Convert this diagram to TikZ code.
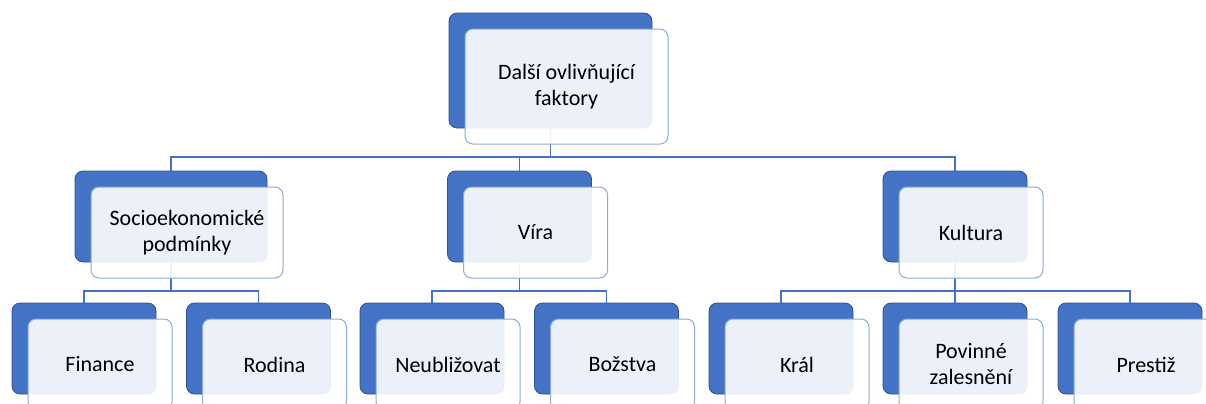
\documentclass[tikz,border=0pt]{standalone}
\usepackage{fontspec}
\setmainfont{Carlito}
\usepackage{tikz}
\usetikzlibrary{positioning}
\definecolor{accent}{HTML}{4472C4}
\definecolor{accentdark}{HTML}{2F528F}
\definecolor{accentlight}{HTML}{8EAADB}

\begin{document}
\begin{tikzpicture}[x=0.5pt,y=-0.5pt,
        back/.style={draw=accentdark, fill=accent, line width=0.4pt, rounded corners=4pt,
          inner sep=0pt, outer sep=0pt, minimum width=72pt, minimum height=45.5pt},
        front/.style={draw=accentlight, fill=white, fill opacity=0.9, text opacity=1,
          line width=0.5pt, rounded corners=4pt, inner sep=0pt, outer sep=0pt,
          minimum width=72pt, minimum height=45.5pt, align=center,
          font=\fontsize{11}{13}\selectfont},
        tree/.style={draw=accent, line width=0.8pt,
          to path={-- ++(0,29) -| (\tikztotarget)}}]
    % \draw[help lines] (0,0) grid[step=50] (1206,403);
    \useasboundingbox (0,0) rectangle (1206,403);
    \clip (0,0) rectangle (1206,403);

    % dark boxes
    \node[back, minimum width=101.5pt, minimum height=57.5pt] (dalsi) at (550.5,70.5) {};
    \node[back, minimum width=96pt] (socio)   at (171,216.5)   {};
    \node[back]                     (vira)    at (519.5,216.5) {};
    \node[back]                     (kultura) at (955,216.5)   {};
    \node[back] (finance) at (84,348.5)    {};
    \node[back] (rodina)  at (258.5,348.5) {};
    \node[back] (neub)    at (432,348.5)   {};
    \node[back] (bozstva) at (606.5,348.5) {};
    \node[back] (kral)    at (781,348.5)   {};
    \node[back] (povinne) at (955,348.5)   {};
    \node[back] (prestiz) at (1130,348.5)  {};

    \path[tree] (dalsi.south) edge (socio.north)
                              edge (vira.north)
                              edge (kultura.north)
                (socio.south) edge (finance.north)
                              edge (rodina.north)
                (vira.south)  edge (neub.north)
                              edge (bozstva.north)
                (kultura.south) edge (kral.north)
                              edge (povinne.north)
                              edge (prestiz.north);

    % light boxes with the texts
    \node[front, minimum width=101.5pt, minimum height=57.5pt] (dalsi-t)
        at ([shift={(16,16)}]dalsi) {Další ovlivňující\\faktory};
    \node[front, minimum width=96pt] (socio-t) at ([shift={(16,16)}]socio) {Socioekonomické\\podmínky};
    \node[front] (vira-t)    at ([shift={(16,16)}]vira)    {Víra};
    \node[front] (kultura-t) at ([shift={(16,16)}]kultura) {Kultura};
    \node[front] (finance-t) at ([shift={(16,16)}]finance) {Finance};
    \node[front] (rodina-t)  at ([shift={(16,16)}]rodina)  {Rodina};
    \node[front] (neub-t)    at ([shift={(16,16)}]neub)    {Neubližovat};
    \node[front] (bozstva-t) at ([shift={(16,16)}]bozstva) {Božstva};
    \node[front] (kral-t)    at ([shift={(16,16)}]kral)    {Král};
    \node[front] (povinne-t) at ([shift={(16,16)}]povinne) {Povinné\\zalesnění};
    \node[front] (prestiz-t) at ([shift={(16,16)}]prestiz) {Prestiž};
\end{tikzpicture}
\end{document}
